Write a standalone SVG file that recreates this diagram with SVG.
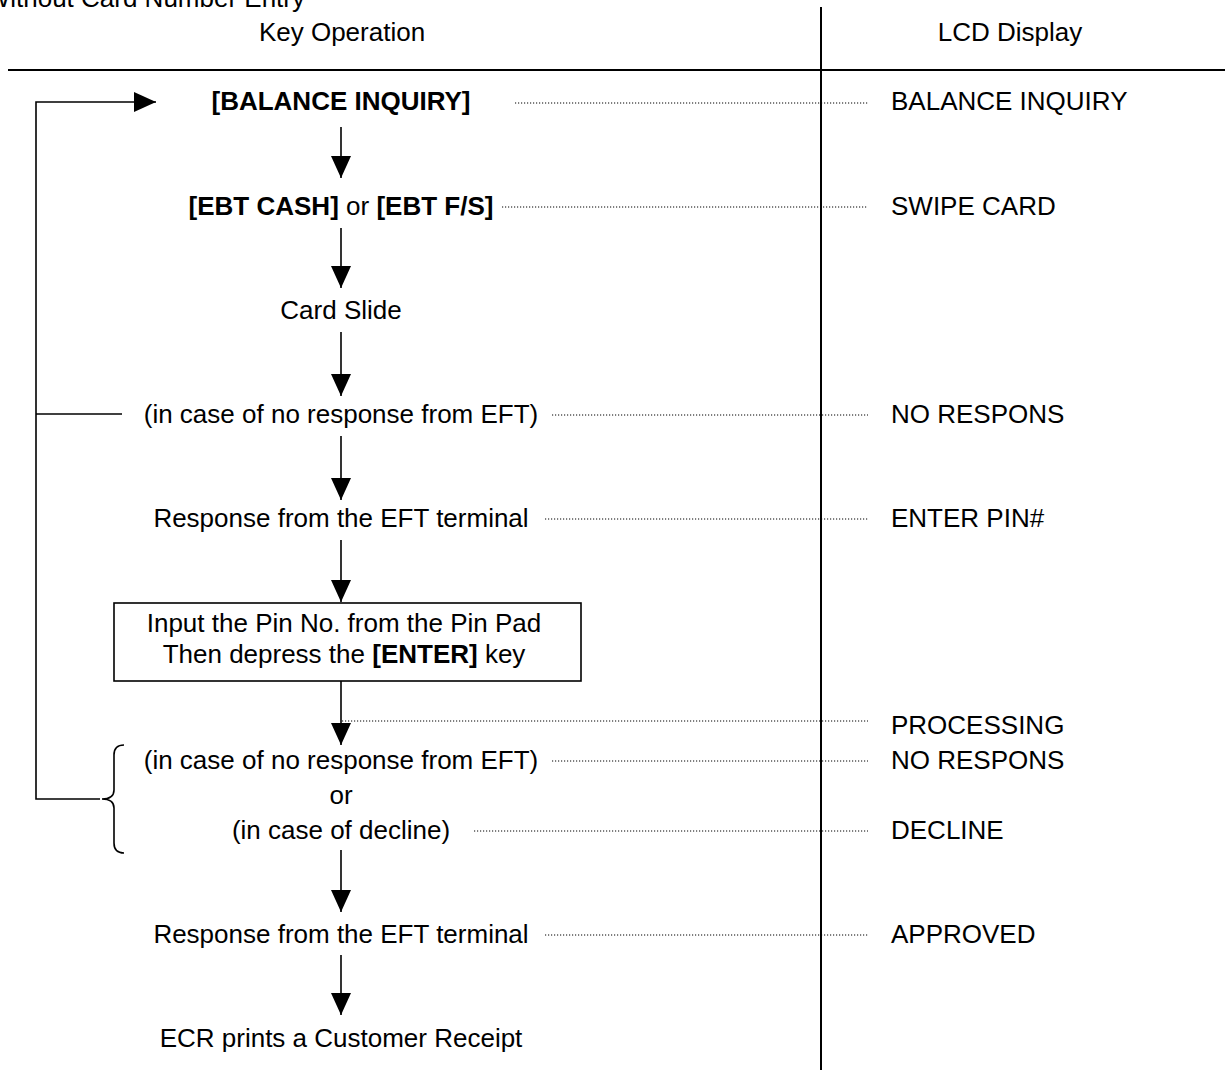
<svg xmlns="http://www.w3.org/2000/svg" width="1225" height="1070" viewBox="0 0 1225 1070">
<style>
text{font-family:"Liberation Sans",Arial,sans-serif;font-size:26px;fill:#000}
.c{text-anchor:middle}
.b{font-weight:bold}
.rule{stroke:#000;stroke-width:2;fill:none}
.flow{stroke:#000;stroke-width:1.6;fill:none}
.dot{stroke:#000;stroke-width:1;stroke-dasharray:1.2 1.8;fill:none}
</style>
<defs>
<marker id="ah" viewBox="0 0 22 20" refX="22" refY="10" markerWidth="22" markerHeight="20" markerUnits="userSpaceOnUse" orient="auto">
<path d="M0,0 L22,10 L0,20 z" fill="#000"/>
</marker>
</defs>
<g id="header">
<text x="305" y="7" text-anchor="end">Without Card Number Entry</text>
<text class="c" x="342" y="41">Key Operation</text>
<text class="c" x="1010" y="41">LCD Display</text>
<line class="rule" x1="8" y1="70" x2="1225" y2="70"/>
<line class="rule" x1="821" y1="7" x2="821" y2="1070"/>
</g>
<g id="connectors">
<polyline class="flow" points="100,799 36,799 36,102 156,102" marker-end="url(#ah)"/>
<line class="flow" x1="36" y1="414" x2="122" y2="414"/>
<path class="flow" d="M124,745 Q114,745 114,755 V790 Q114,799 102,799 Q114,799 114,808 V843 Q114,853 124,853"/>
<line class="flow" x1="341" y1="127" x2="341" y2="178" marker-end="url(#ah)"/>
<line class="flow" x1="341" y1="228" x2="341" y2="288" marker-end="url(#ah)"/>
<line class="flow" x1="341" y1="332" x2="341" y2="396" marker-end="url(#ah)"/>
<line class="flow" x1="341" y1="436" x2="341" y2="500" marker-end="url(#ah)"/>
<line class="flow" x1="341" y1="540" x2="341" y2="602" marker-end="url(#ah)"/>
<line class="flow" x1="341" y1="681" x2="341" y2="745" marker-end="url(#ah)"/>
<line class="flow" x1="341" y1="850" x2="341" y2="912" marker-end="url(#ah)"/>
<line class="flow" x1="341" y1="955" x2="341" y2="1015" marker-end="url(#ah)"/>
<line class="dot" x1="515" y1="103" x2="868" y2="103"/>
<line class="dot" x1="502" y1="207" x2="868" y2="207"/>
<line class="dot" x1="552" y1="415" x2="868" y2="415"/>
<line class="dot" x1="545" y1="519" x2="868" y2="519"/>
<line class="dot" x1="342" y1="721" x2="868" y2="721"/>
<line class="dot" x1="552" y1="761" x2="868" y2="761"/>
<line class="dot" x1="474" y1="831" x2="868" y2="831"/>
<line class="dot" x1="545" y1="935" x2="868" y2="935"/>
</g>
<g id="n-balance"><text class="c b" x="341" y="110">[BALANCE INQUIRY]</text></g>
<g id="n-ebt"><text class="c" x="341" y="215"><tspan class="b">[EBT CASH]</tspan> or <tspan class="b">[EBT F/S]</tspan></text></g>
<g id="n-slide"><text class="c" x="341" y="319">Card Slide</text></g>
<g id="n-noresp1"><text class="c" x="341" y="423">(in case of no response from EFT)</text></g>
<g id="n-resp1"><text class="c" x="341" y="527">Response from the EFT terminal</text></g>
<g id="n-pin">
<rect x="114" y="603" width="467" height="78" fill="#fff" stroke="#000" stroke-width="1.6"/>
<text class="c" x="344" y="632">Input the Pin No. from the Pin Pad</text>
<text class="c" x="344" y="663">Then depress the <tspan class="b">[ENTER]</tspan> key</text>
</g>
<g id="n-noresp2"><text class="c" x="341" y="769">(in case of no response from EFT)</text></g>
<g id="n-or"><text class="c" x="341" y="804">or</text></g>
<g id="n-decline"><text class="c" x="341" y="839">(in case of decline)</text></g>
<g id="n-resp2"><text class="c" x="341" y="943">Response from the EFT terminal</text></g>
<g id="n-receipt"><text class="c" x="341" y="1047">ECR prints a Customer Receipt</text></g>
<g id="lcd">
<text x="891" y="110">BALANCE INQUIRY</text>
<text x="891" y="215">SWIPE CARD</text>
<text x="891" y="423">NO RESPONS</text>
<text x="891" y="527">ENTER PIN#</text>
<text x="891" y="734">PROCESSING</text>
<text x="891" y="769">NO RESPONS</text>
<text x="891" y="839">DECLINE</text>
<text x="891" y="943">APPROVED</text>
</g>
</svg>
